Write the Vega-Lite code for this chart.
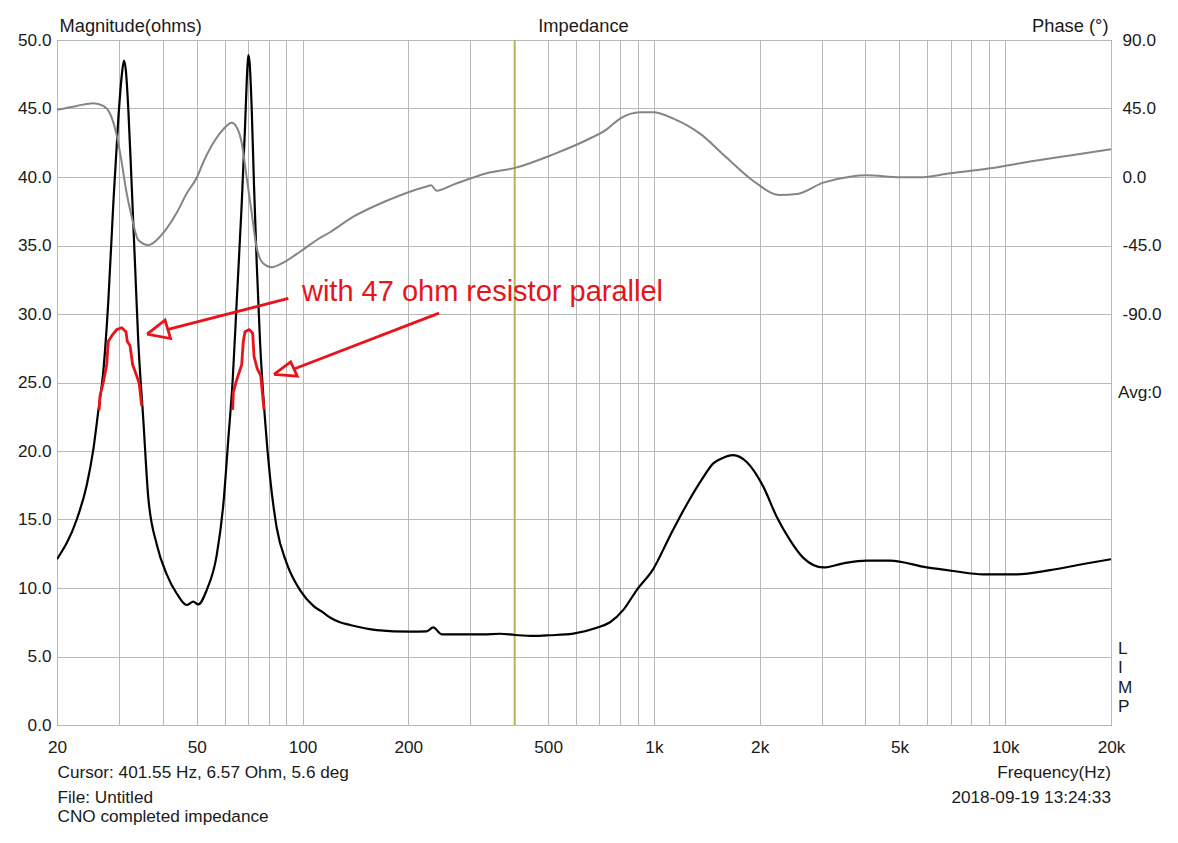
{
  "$schema": "https://vega.github.io/schema/vega-lite/v6.json",
  "width": 1054,
  "height": 685,
  "autosize": {"type": "none"},
  "padding": {"left": 57, "top": 40, "right": 67, "bottom": 118},
  "background": "white",
  "config": {
    "font": "Liberation Sans",
    "view": {"stroke": "#3c3c3c", "strokeWidth": 1},
    "axis": {"labelColor": "#1a1a1a", "titleColor": "#1a1a1a", "titleFontWeight": "normal", "labelFontSize": 17.2, "titleFontSize": 18.3, "labelFlush": false, "labelOverlap": false, "labelBound": false}
  },
  "datasets": {
    "magnitude": [
      {"freq": 20, "ohm": 12.1}, {"freq": 22.76, "ohm": 15.0}, {"freq": 24.3, "ohm": 17.5}, {"freq": 25.37, "ohm": 20.1},
      {"freq": 26.21, "ohm": 22.9}, {"freq": 27.09, "ohm": 25.8}, {"freq": 27.99, "ohm": 30.9}, {"freq": 28.92, "ohm": 38.0},
      {"freq": 29.88, "ohm": 44.2}, {"freq": 30.6, "ohm": 47.5}, {"freq": 31.02, "ohm": 48.5}, {"freq": 31.4, "ohm": 47.8},
      {"freq": 31.91, "ohm": 45.0}, {"freq": 32.63, "ohm": 39.4}, {"freq": 33.34, "ohm": 33.7}, {"freq": 34.07, "ohm": 28.0},
      {"freq": 35.21, "ohm": 22.3}, {"freq": 36.38, "ohm": 16.6}, {"freq": 38.44, "ohm": 13.2}, {"freq": 41.05, "ohm": 11.0},
      {"freq": 43.83, "ohm": 9.6}, {"freq": 46.79, "ohm": 8.76}, {"freq": 48.86, "ohm": 9.0}, {"freq": 50.49, "ohm": 8.8},
      {"freq": 53.35, "ohm": 9.85}, {"freq": 56.97, "ohm": 12.4}, {"freq": 59.49, "ohm": 16.1}, {"freq": 61.48, "ohm": 20.9},
      {"freq": 63.26, "ohm": 25.2}, {"freq": 64.94, "ohm": 30.9}, {"freq": 67.1, "ohm": 38.0}, {"freq": 68.57, "ohm": 43.6},
      {"freq": 69.6, "ohm": 47.8}, {"freq": 70.07, "ohm": 48.9}, {"freq": 70.7, "ohm": 48.3}, {"freq": 71.65, "ohm": 45.0},
      {"freq": 72.74, "ohm": 39.4}, {"freq": 74.04, "ohm": 33.7}, {"freq": 75.66, "ohm": 28.0}, {"freq": 78.18, "ohm": 22.3},
      {"freq": 80.79, "ohm": 18.1}, {"freq": 84.41, "ohm": 14.4}, {"freq": 90.13, "ohm": 11.8}, {"freq": 98.34, "ohm": 9.85},
      {"freq": 107.3, "ohm": 8.7}, {"freq": 114.6, "ohm": 8.2}, {"freq": 119.7, "ohm": 7.85}, {"freq": 127.8, "ohm": 7.5},
      {"freq": 136.5, "ohm": 7.3}, {"freq": 162.6, "ohm": 6.93}, {"freq": 202.2, "ohm": 6.81}, {"freq": 225.5, "ohm": 6.84},
      {"freq": 235.5, "ohm": 7.12}, {"freq": 248.9, "ohm": 6.62}, {"freq": 326.9, "ohm": 6.62}, {"freq": 364.7, "ohm": 6.66},
      {"freq": 402.4, "ohm": 6.57}, {"freq": 453.7, "ohm": 6.5}, {"freq": 506.3, "ohm": 6.55}, {"freq": 589.8, "ohm": 6.67},
      {"freq": 687.5, "ohm": 7.1}, {"freq": 750.1, "ohm": 7.5}, {"freq": 818.4, "ohm": 8.4}, {"freq": 893.4, "ohm": 9.85},
      {"freq": 996.4, "ohm": 11.4}, {"freq": 1111, "ohm": 13.8}, {"freq": 1240, "ohm": 16.1}, {"freq": 1383, "ohm": 18.1},
      {"freq": 1476, "ohm": 19.1}, {"freq": 1542, "ohm": 19.4}, {"freq": 1683, "ohm": 19.7}, {"freq": 1837, "ohm": 19.2},
      {"freq": 2048, "ohm": 17.4}, {"freq": 2236, "ohm": 15.2}, {"freq": 2440, "ohm": 13.5}, {"freq": 2663, "ohm": 12.2},
      {"freq": 3035, "ohm": 11.5}, {"freq": 3460, "ohm": 11.8}, {"freq": 4034, "ohm": 12.0}, {"freq": 4698, "ohm": 12.0},
      {"freq": 5978, "ohm": 11.5}, {"freq": 7116, "ohm": 11.24}, {"freq": 8660, "ohm": 11.0}, {"freq": 10780, "ohm": 11.0},
      {"freq": 13414, "ohm": 11.3}, {"freq": 16680, "ohm": 11.75}, {"freq": 20000, "ohm": 12.1}
    ],
    "phase": [
      {"freq": 20, "deg": 44.1}, {"freq": 22.76, "deg": 46.7}, {"freq": 25.37, "deg": 48.5}, {"freq": 27.09, "deg": 46.7},
      {"freq": 28.3, "deg": 41.7}, {"freq": 29.57, "deg": 27.6}, {"freq": 30.56, "deg": 9.7}, {"freq": 31.43, "deg": -8.2},
      {"freq": 32.63, "deg": -26.1}, {"freq": 34.07, "deg": -41.4}, {"freq": 36.38, "deg": -44.7}, {"freq": 38.44, "deg": -41.4},
      {"freq": 41.05, "deg": -33.8}, {"freq": 43.83, "deg": -23.5}, {"freq": 46.79, "deg": -10.8}, {"freq": 49.97, "deg": -0.5},
      {"freq": 52.17, "deg": 9.7}, {"freq": 55.72, "deg": 22.5}, {"freq": 59.49, "deg": 31.4}, {"freq": 62.84, "deg": 35.7},
      {"freq": 64.94, "deg": 32.7}, {"freq": 67.1, "deg": 22.5}, {"freq": 69.34, "deg": -0.5}, {"freq": 71.65, "deg": -23.5},
      {"freq": 74.04, "deg": -46.6}, {"freq": 77.31, "deg": -56.8}, {"freq": 81.69, "deg": -59.3}, {"freq": 88.15, "deg": -56.2},
      {"freq": 98.34, "deg": -49.1}, {"freq": 109.7, "deg": -41.4}, {"freq": 119.7, "deg": -36.3}, {"freq": 139.5, "deg": -26.1},
      {"freq": 173.6, "deg": -15.6}, {"freq": 225.5, "deg": -6.2}, {"freq": 232, "deg": -5.5}, {"freq": 240.8, "deg": -9.0},
      {"freq": 268.6, "deg": -5.0}, {"freq": 334.3, "deg": 2.5}, {"freq": 402.4, "deg": 6.0}, {"freq": 517.3, "deg": 14.9},
      {"freq": 643.9, "deg": 24.3}, {"freq": 734.1, "deg": 31.3}, {"freq": 800.9, "deg": 38.4}, {"freq": 912.9, "deg": 42.6},
      {"freq": 996.4, "deg": 42.6}, {"freq": 1136, "deg": 38.4}, {"freq": 1353, "deg": 28.5}, {"freq": 1612, "deg": 12.6},
      {"freq": 1918, "deg": -2.6}, {"freq": 2285, "deg": -11.8}, {"freq": 2550, "deg": -11.2}, {"freq": 3035, "deg": -3.7},
      {"freq": 3615, "deg": 0.2}, {"freq": 4034, "deg": 1.1}, {"freq": 5016, "deg": -0.2}, {"freq": 5720, "deg": -0.2},
      {"freq": 6964, "deg": 2.4}, {"freq": 9050, "deg": 5.7}, {"freq": 12018, "deg": 10.5}, {"freq": 15620, "deg": 14.5},
      {"freq": 20000, "deg": 18.2}
    ],
    "withResistor": [
      {"trace": "first peak", "seq": 1, "freq": 26.38, "ohm": 23.0}, {"trace": "first peak", "seq": 2, "freq": 26.5, "ohm": 24.0},
      {"trace": "first peak", "seq": 3, "freq": 27.09, "ohm": 25.0}, {"trace": "first peak", "seq": 4, "freq": 27.7, "ohm": 26.3},
      {"trace": "first peak", "seq": 5, "freq": 27.99, "ohm": 28.0}, {"trace": "first peak", "seq": 6, "freq": 28.62, "ohm": 28.4},
      {"trace": "first peak", "seq": 7, "freq": 29.57, "ohm": 28.86}, {"trace": "first peak", "seq": 8, "freq": 30.56, "ohm": 29.0},
      {"trace": "first peak", "seq": 9, "freq": 31.43, "ohm": 28.7}, {"trace": "first peak", "seq": 10, "freq": 31.71, "ohm": 28.0},
      {"trace": "first peak", "seq": 11, "freq": 32.27, "ohm": 27.7}, {"trace": "first peak", "seq": 12, "freq": 32.84, "ohm": 26.3},
      {"trace": "first peak", "seq": 13, "freq": 33.71, "ohm": 25.5}, {"trace": "first peak", "seq": 14, "freq": 34.29, "ohm": 24.9},
      {"trace": "first peak", "seq": 15, "freq": 34.84, "ohm": 23.3},
      {"trace": "second peak", "seq": 1, "freq": 63.26, "ohm": 23.0}, {"trace": "second peak", "seq": 2, "freq": 63.51, "ohm": 24.3},
      {"trace": "second peak", "seq": 3, "freq": 64.94, "ohm": 25.2}, {"trace": "second peak", "seq": 4, "freq": 67.1, "ohm": 26.3},
      {"trace": "second peak", "seq": 5, "freq": 67.81, "ohm": 28.0}, {"trace": "second peak", "seq": 6, "freq": 68.57, "ohm": 28.7},
      {"trace": "second peak", "seq": 7, "freq": 70.53, "ohm": 28.86}, {"trace": "second peak", "seq": 8, "freq": 72.12, "ohm": 28.6},
      {"trace": "second peak", "seq": 9, "freq": 72.74, "ohm": 26.9}, {"trace": "second peak", "seq": 10, "freq": 74.33, "ohm": 26.0},
      {"trace": "second peak", "seq": 11, "freq": 76.01, "ohm": 25.5}, {"trace": "second peak", "seq": 12, "freq": 77.67, "ohm": 23.0}
    ],
    "arrows": [
      {"part": "shaft 1", "seq": 1, "freq": 91.1, "ohm": 31.14}, {"part": "shaft 1", "seq": 2, "freq": 41.4, "ohm": 28.88},
      {"part": "head 1", "seq": 1, "freq": 36.1, "ohm": 28.53}, {"part": "head 1", "seq": 2, "freq": 40.6, "ohm": 29.56},
      {"part": "head 1", "seq": 3, "freq": 42.1, "ohm": 28.21}, {"part": "head 1", "seq": 4, "freq": 36.1, "ohm": 28.53},
      {"part": "shaft 2", "seq": 1, "freq": 244.6, "ohm": 30.06}, {"part": "shaft 2", "seq": 2, "freq": 94.5, "ohm": 25.99},
      {"part": "head 2", "seq": 1, "freq": 82.9, "ohm": 25.6}, {"part": "head 2", "seq": 2, "freq": 92.5, "ohm": 26.51},
      {"part": "head 2", "seq": 3, "freq": 96.6, "ohm": 25.46}, {"part": "head 2", "seq": 4, "freq": 82.9, "ohm": 25.6}
    ],
    "cursor": [{"freq": 401.55}],
    "note": [{"freq": 99.6, "ohm": 30.95, "label": "with 47 ohm resistor parallel"}],
    "sideNotes": [{"freq": 20000, "ohm": 24.27, "label": "Avg:0"}],
    "limp": [{"freq": 20000, "ohm": 5.2, "label": ["L", "I", "M", "P"]}]
  },
  "layer": [
    {
      "data": {"name": "cursor"},
      "mark": {"type": "rule", "color": "#b4b452", "strokeWidth": 2},
      "encoding": {
        "x": {"field": "freq", "type": "quantitative", "scale": {"type": "log", "domain": [20, 20000], "nice": false},
          "axis": {"orient": "bottom", "labels": false, "ticks": false, "domain": false, "grid": false,
            "title": ["Frequency(Hz)", "2018-09-19 13:24:33"], "titleX": 1053.5, "titleY": 52.3, "titleAlign": "right",
            "titleBaseline": "alphabetic", "titleLineHeight": 25, "titleFontSize": 17.2}}
      }
    },
    {
      "data": {"name": "magnitude"},
      "mark": {"type": "line", "color": "#000000", "strokeWidth": 2.2, "interpolate": "monotone", "clip": true},
      "encoding": {
        "x": {"field": "freq", "type": "quantitative", "scale": {"type": "log", "domain": [20, 20000], "nice": false},
          "axis": {"orient": "bottom",
            "values": [20, 30, 40, 50, 60, 70, 80, 90, 100, 200, 300, 400, 500, 600, 700, 800, 900, 1000, 2000, 3000, 4000, 5000, 6000, 7000, 8000, 9000, 10000, 20000],
            "labelExpr": "indexof([20, 50, 100, 200, 500, 1000, 2000, 5000, 10000, 20000], datum.value) >= 0 ? (datum.value >= 1000 ? format(datum.value / 1000, 'd') + 'k' : format(datum.value, 'd')) : ''",
            "grid": true, "gridColor": "#b8b8b8", "gridWidth": 1, "ticks": false, "domain": false, "labelPadding": 13,
            "title": "Cursor: 401.55 Hz, 6.57 Ohm, 5.6 deg", "titleX": 0, "titleY": 52.3, "titleAlign": "left",
            "titleBaseline": "alphabetic", "titleFontSize": 17.2}},
        "y": {"field": "ohm", "type": "quantitative", "scale": {"domain": [0, 50], "nice": false, "zero": false},
          "axis": {"orient": "left", "values": [0, 5, 10, 15, 20, 25, 30, 35, 40, 45, 50],
            "labelExpr": "format(datum.value, '.1f')", "grid": true, "gridColor": "#b8b8b8", "gridWidth": 1,
            "ticks": false, "domain": false, "labelPadding": 6,
            "title": "Magnitude(ohms)", "titleAngle": 0, "titleX": 2, "titleY": -9, "titleAlign": "left", "titleBaseline": "alphabetic"}}
      }
    },
    {
      "data": {"name": "phase"},
      "mark": {"type": "line", "color": "#858585", "strokeWidth": 2, "interpolate": "monotone", "clip": true},
      "encoding": {
        "x": {"field": "freq", "type": "quantitative", "scale": {"type": "log", "domain": [20, 20000], "nice": false},
          "axis": {"orient": "top", "labels": false, "ticks": false, "domain": false, "grid": false,
            "title": "Impedance", "titleX": 526, "titleY": -9, "titleAlign": "center", "titleBaseline": "alphabetic"}},
        "y": {"field": "deg", "type": "quantitative", "scale": {"domain": [-360, 90], "nice": false, "zero": false},
          "axis": {"orient": "right", "values": [-90, -45, 0, 45, 90],
            "labelExpr": "(datum.value < 0 ? '-' : '') + format(abs(datum.value), '.1f')",
            "grid": false, "ticks": false, "domain": false, "labelPadding": 11, "labelAlign": "left",
            "title": "Phase (°)", "titleAngle": 0, "titleX": -3, "titleY": -9, "titleAlign": "right", "titleBaseline": "alphabetic"}}
      }
    },
    {
      "data": {"name": "withResistor"},
      "mark": {"type": "line", "color": "#e8141a", "strokeWidth": 2.8, "strokeJoin": "round", "clip": true},
      "encoding": {
        "x": {"field": "freq", "type": "quantitative", "scale": {"type": "log", "domain": [20, 20000], "nice": false},
          "axis": {"orient": "bottom", "labels": false, "ticks": false, "domain": false, "grid": false,
            "title": ["File: Untitled", "CNO completed impedance"], "titleX": 0, "titleY": 77.3, "titleAlign": "left",
            "titleBaseline": "alphabetic", "titleLineHeight": 19.4, "titleFontSize": 17.2}},
        "y": {"field": "ohm", "type": "quantitative", "scale": {"domain": [0, 50], "nice": false, "zero": false}, "axis": null},
        "detail": {"field": "trace"},
        "order": {"field": "seq", "type": "quantitative"}
      }
    },
    {
      "data": {"name": "arrows"},
      "mark": {"type": "line", "color": "#e8141a", "strokeWidth": 2.8, "strokeJoin": "miter"},
      "encoding": {
        "x": {"field": "freq", "type": "quantitative", "scale": {"type": "log", "domain": [20, 20000], "nice": false}, "axis": null},
        "y": {"field": "ohm", "type": "quantitative", "scale": {"domain": [0, 50], "nice": false, "zero": false}, "axis": null},
        "detail": {"field": "part"},
        "order": {"field": "seq", "type": "quantitative"}
      }
    },
    {
      "data": {"name": "note"},
      "mark": {"type": "text", "color": "#e8141a", "fontSize": 29, "align": "left", "baseline": "alphabetic"},
      "encoding": {
        "x": {"field": "freq", "type": "quantitative", "scale": {"type": "log", "domain": [20, 20000], "nice": false}, "axis": null},
        "y": {"field": "ohm", "type": "quantitative", "scale": {"domain": [0, 50], "nice": false, "zero": false}, "axis": null},
        "text": {"field": "label"}
      }
    },
    {
      "data": {"name": "sideNotes"},
      "mark": {"type": "text", "color": "#1a1a1a", "fontSize": 17.2, "align": "left", "baseline": "middle", "dx": 7},
      "encoding": {
        "x": {"field": "freq", "type": "quantitative", "scale": {"type": "log", "domain": [20, 20000], "nice": false}, "axis": null},
        "y": {"field": "ohm", "type": "quantitative", "scale": {"domain": [0, 50], "nice": false, "zero": false}, "axis": null},
        "text": {"field": "label"}
      }
    },
    {
      "data": {"name": "limp"},
      "mark": {"type": "text", "color": "#1a1a1a", "fontSize": 17.2, "align": "left", "baseline": "alphabetic", "dx": 7, "lineHeight": 19.5},
      "encoding": {
        "x": {"field": "freq", "type": "quantitative", "scale": {"type": "log", "domain": [20, 20000], "nice": false}, "axis": null},
        "y": {"field": "ohm", "type": "quantitative", "scale": {"domain": [0, 50], "nice": false, "zero": false}, "axis": null},
        "text": {"field": "label"}
      }
    }
  ],
  "resolve": {"scale": {"y": "independent"}, "axis": {"x": "independent", "y": "independent"}}
}
